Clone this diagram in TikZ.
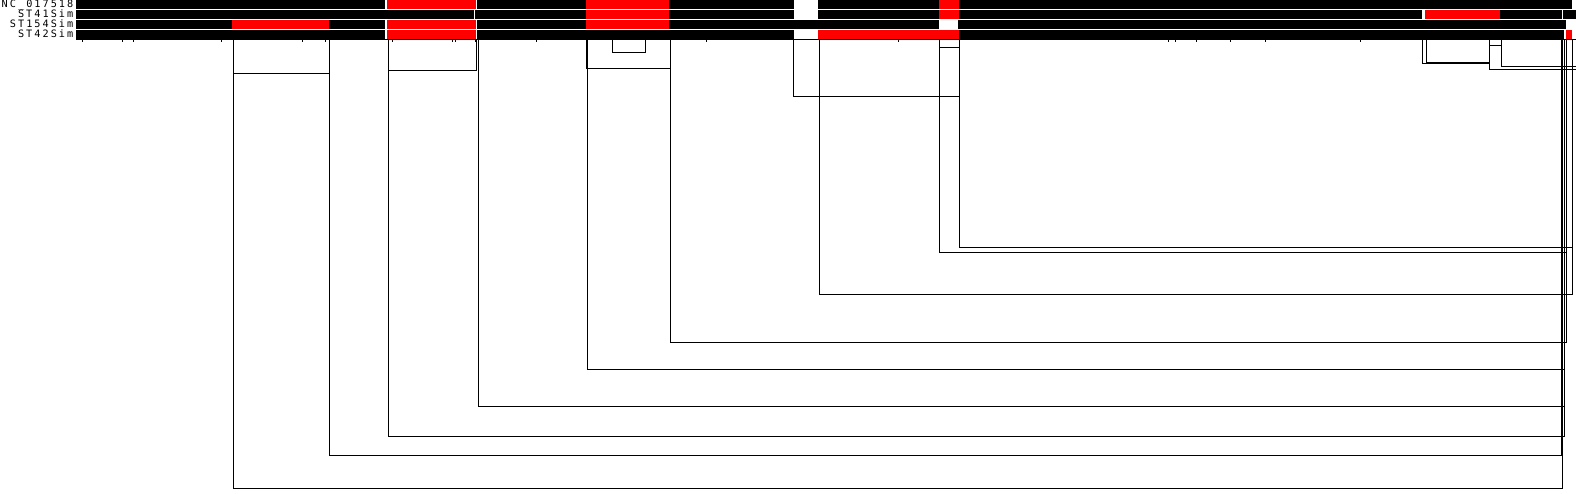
\documentclass[tikz,border=0pt]{standalone}
\usepackage{fontspec}
\newfontfamily\seqfont[LetterSpace=20]{DejaVu Sans Mono}

\begin{document}
\begin{tikzpicture}[x=1pt, y=-1pt,
  brk/.style={draw=black, line width=0.85pt},
  tick/.style={draw=black, line width=0.8pt},
  seqname/.style={anchor=base east, inner sep=0pt,
    font=\seqfont\fontsize{10.2}{11}\selectfont}]
  \useasboundingbox (0,0) rectangle (1576,493);

  % sequence names
  \node[seqname] (nc)    at (73.5,7.6)  {NC\_017518};
  \node[seqname] (st41)  at (73.5,17.5) {ST41Sim};
  \node[seqname] (st154) at (73.5,27.5) {ST154Sim};
  \node[seqname] (st42)  at (73.5,37.5) {ST42Sim};

  % row bars
  \foreach \a/\b/\c in {76/385/black, 387/476/red, 477/586/black, 586/669/red,
      669/793.7/black, 818/939/black, 939/959/red, 959/1572/black}
    \fill[\c] (\a,0) rectangle (\b,8.7);
  \foreach \a/\b/\c in {76/474/black, 475.3/586/black, 586/669/red, 669/793.7/black,
      818/939/black, 939/959/red, 959/1422/black, 1425/1500/red,
      1500/1562/black, 1563/1576/black}
    \fill[\c] (\a,10) rectangle (\b,18.7);
  \foreach \a/\b/\c in {76/232.3/black, 232.3/329/red, 329/385/black, 387/476/red,
      477/586/black, 586/669/red, 669/939/black, 958/1566/black}
    \fill[\c] (\a,20) rectangle (\b,28.7);
  \foreach \a/\b/\c in {76/385/black, 387/476/red, 477/793.7/black, 818/959/red,
      959/1564/black, 1566/1572/red}
    \fill[\c] (\a,30) rectangle (\b,38.7);

  % axis and ticks
  \draw[tick] (76,39.6) -- (1576,39.6);
  \foreach \t in {82.7,122,133.7,221.7,302.7,325,392.7,452.7,455,475,536.7,
      706.7,898.7,1168.7,1175,1196.7,1230,1265,1360.7}
    \draw[tick] (\t,40) -- (\t,42);

  % breakpoint brackets
  \foreach \l/\r/\d in {233.3/329.8/73.3, 233.3/1562.3/488.3, 329.8/1561.5/455.3,
      388.5/476.5/70.7, 388.5/1564/436.7, 478.3/1564/406.7,
      586.7/670/68, 612.3/645.7/52.3, 587.3/1564/369.3, 670.3/1566.3/342.3,
      793.7/959.3/96.3, 939.3/959.3/47.3, 819.3/1572.5/294,
      939.3/1566.3/252.3, 959.3/1572.5/247.3,
      1422.3/1489.3/63.3, 1426.3/1489.3/62.3, 1489.3/1576/69.3,
      1489.3/1501.3/45.3, 1501.3/1576/66.7}
    \draw[brk] (\l,40) -- (\l,\d) -- (\r,\d) -- (\r,40);
\end{tikzpicture}
\end{document}
